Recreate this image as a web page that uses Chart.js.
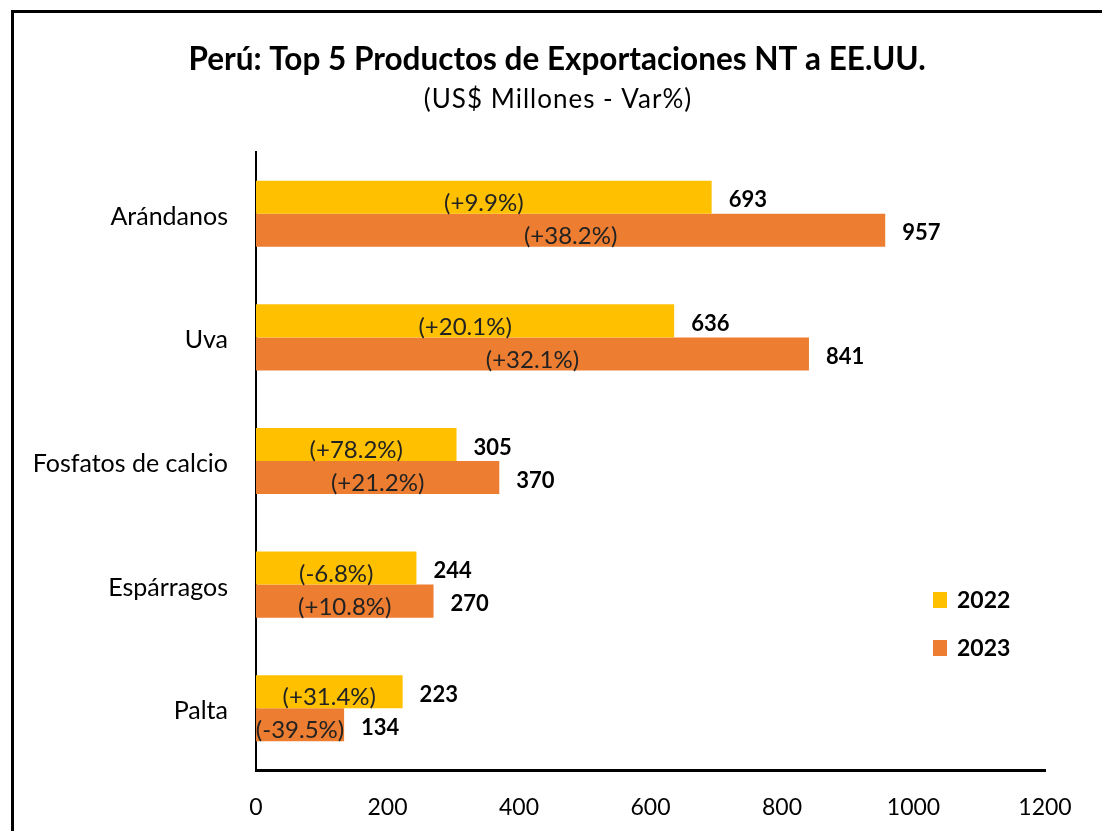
<!DOCTYPE html>
<html>
<head>
<meta charset="utf-8">
<script src="https://cdn.jsdelivr.net/npm/chart.js@4.4.0/dist/chart.umd.min.js"></script>
<style>
    html, body { margin: 0; padding: 0; background: #fff; overflow: hidden; }
    #marco { position: absolute; left: 11px; top: 10px; width: 1200px; height: 1000px; border: 3px solid #000; box-sizing: border-box; }
    #wrap { position: absolute; left: 0; top: 0; width: 1102px; height: 831px; }
</style>
</head>
<body>
<div id="marco"></div>
<div id="wrap"><canvas id="grafico" width="1102" height="831"></canvas></div>
<script>
var titulo = 'Perú: Top 5 Productos de Exportaciones NT a EE.UU.';
var subtitulo = '(US$ Millones - Var%)';
var productos = ['Arándanos', 'Uva', 'Fosfatos de calcio', 'Espárragos', 'Palta'];
var anios = ['2022', '2023'];
var valores2022 = [693, 636, 305, 244, 223];
var valores2023 = [957, 841, 370, 270, 134];
var variacion2022 = ['(+9.9%)', '(+20.1%)', '(+78.2%)', '(-6.8%)', '(+31.4%)'];
var variacion2023 = ['(+38.2%)', '(+32.1%)', '(+21.2%)', '(+10.8%)', '(-39.5%)'];
var ticksX = [0, 200, 400, 600, 800, 1000, 1200];
var colores = ['#FFC000', '#ED7D31'];

var fuente = 'Lato, "Open Sans", sans-serif';

// Etiquetas de datos, títulos y leyenda dibujados a mano
var extras = {
    id: 'extras',
    afterDraw: function (chart) {
        var ctx = chart.ctx;
        var variaciones = [variacion2022, variacion2023];
        ctx.save();

        // Títulos
        ctx.fillStyle = '#000';
        ctx.textAlign = 'center';
        ctx.textBaseline = 'middle';
        ctx.font = 'bold 31.5px ' + fuente;
        ctx.fillText(titulo, 557, 60);
        ctx.font = '26px ' + fuente;
        ctx.letterSpacing = '1px';
        ctx.fillText(subtitulo, 558, 100);
        ctx.letterSpacing = '0px';

        chart.data.datasets.forEach(function (ds, i) {
            var meta = chart.getDatasetMeta(i);
            meta.data.forEach(function (bar, j) {
                // variación dentro de la barra
                ctx.font = '24px ' + fuente;
                ctx.fillStyle = '#222';
                ctx.textAlign = 'center';
                ctx.fillText(variaciones[i][j], (bar.x + bar.base) / 2, bar.y + 6);
                // valor al final
                ctx.font = 'bold 22px ' + fuente;
                ctx.fillStyle = '#000';
                ctx.textAlign = 'left';
                ctx.fillText(ds.data[j], bar.x + 17, bar.y + 3);
            });
        });

        // Leyenda
        chart.data.datasets.forEach(function (ds, i) {
            var y = 600 + i * 48;
            ctx.fillStyle = ds.backgroundColor;
            ctx.fillRect(933, y - 8, 14, 16);
            ctx.fillStyle = '#000';
            ctx.font = 'bold 23px ' + fuente;
            ctx.textAlign = 'left';
            ctx.fillText(ds.label, 957, y + 1);
        });
        ctx.restore();
    }
};

var ctx = document.getElementById('grafico').getContext('2d');
var grafico = new Chart(ctx, {
    type: 'bar',
    data: {
        labels: productos,
        datasets: [{
            label: anios[0],
            data: valores2022,
            backgroundColor: colores[0]
        }, {
            label: anios[1],
            data: valores2023,
            backgroundColor: colores[1]
        }]
    },
    options: {
        indexAxis: 'y',
        responsive: false,
        animation: false,
        devicePixelRatio: 1,
        layout: { padding: { top: 152, right: 57, bottom: 0, left: 0 } },
        datasets: {
            bar: { barPercentage: 1, categoryPercentage: 0.535 }
        },
        plugins: {
            legend: { display: false },
            title: { display: false },
            tooltip: { enabled: false }
        },
        scales: {
            x: {
                min: 0,
                max: 1200,
                afterBuildTicks: function (s) { s.ticks = ticksX.map(function (v) { return { value: v }; }); },
                afterFit: function (s) { s.height = 61; },
                grid: { display: false, drawTicks: false },
                border: { display: true, color: '#000', width: 3 },
                ticks: {
                    color: '#000', padding: 24, font: { family: fuente, size: 23 },
                    callback: function (v) { return String(v); }
                }
            },
            y: {
                afterFit: function (s) { s.width = 256; },
                grid: { display: false, drawTicks: false },
                border: { display: true, color: '#000', width: 2 },
                ticks: { color: '#000', padding: 28, labelOffset: 3, font: { family: fuente, size: 25 } }
            }
        }
    },
    plugins: [extras]
});
</script>
</body>
</html>
